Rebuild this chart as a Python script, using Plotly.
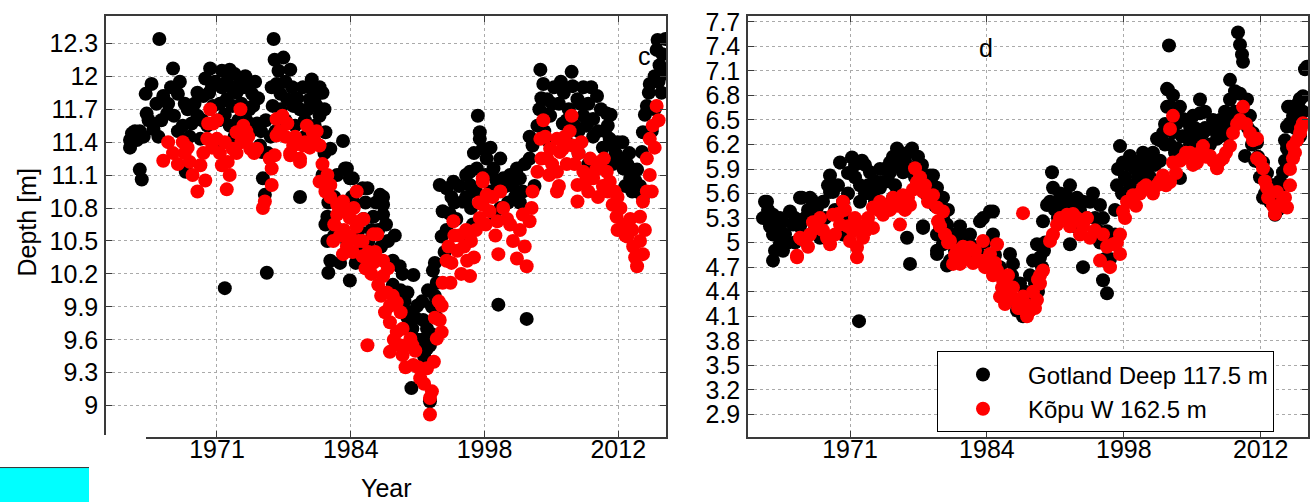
import plotly.graph_objects as go

# ---------------- data (year, depth [m]) ----------------
# Panel c : Gotland Deep 117.5 m (black)
c_gotland = [
    (1962.1, 11.35), (1962.1, 11.42), (1962.3, 11.48), (1962.6, 11.5), (1963.1, 11.5), (1963.1, 11.15), (1963.3, 11.06),
    (1962.8, 11.42), (1963.5, 11.45), (1964.0, 11.6), (1964.8, 11.75), (1965.3, 11.6), (1965.0, 11.45),
    (1963.7, 11.84), (1964.3, 11.93), (1963.8, 11.66), (1964.5, 11.52), (1965.1, 12.34),
    (1965.5, 11.82), (1965.9, 11.66), (1966.5, 12.07), (1966.6, 11.64), (1967.0, 11.84), (1967.7, 11.75), (1967.5, 11.55),
    (1967.8, 11.13), (1966.0, 11.75), (1968.4, 11.57), (1969.0, 11.64), (1969.3, 11.43), (1969.6, 11.82), (1969.8, 11.98),
    (1970.3, 12.07), (1970.5, 11.91), (1970.6, 11.73), (1971.0, 11.37), (1968.0, 11.7), (1969.0, 11.85), (1970.0, 11.55),
    (1966.3, 11.9), (1967.2, 11.95), (1968.7, 11.75), (1969.5, 11.6), (1970.2, 11.85), (1970.8, 11.95), (1968.2, 11.45),
    (1967.0, 11.5),
    (1971.2, 11.6), (1971.5, 11.9), (1971.5, 12.05), (1972.0, 11.95), (1972.0, 11.79), (1972.3, 12.06), (1972.3, 11.55),
    (1972.6, 11.73), (1972.8, 12.02), (1973.0, 11.85), (1973.4, 11.97), (1973.5, 11.75), (1973.9, 12.0), (1974.0, 11.6),
    (1974.2, 11.93), (1974.5, 11.5), (1974.6, 11.84), (1974.7, 11.73), (1975.1, 11.57), (1975.4, 11.37), (1975.5, 11.5),
    (1971.3, 11.75), (1971.8, 11.65), (1972.5, 11.9), (1973.2, 11.6), (1973.7, 11.9), (1974.3, 11.7), (1974.9, 11.95),
    (1975.2, 11.8), (1972.8, 11.45), (1973.8, 11.45),
    (1971.8, 10.07), (1976.1, 10.21),
    (1975.6, 11.31), (1975.7, 11.07), (1975.9, 10.92), (1976.0, 11.6), (1976.5, 11.45),
    (1976.7, 11.73), (1976.8, 12.34), (1976.9, 12.15), (1977.0, 11.5), (1977.1, 11.93), (1977.5, 11.84), (1977.5, 11.7),
    (1977.8, 12.17), (1978.0, 11.95), (1978.2, 11.79), (1978.5, 12.06), (1978.8, 11.73), (1979.0, 11.55), (1979.5, 11.7),
    (1976.2, 11.3), (1976.6, 11.9), (1977.3, 12.05), (1978.0, 11.6), (1978.7, 11.9), (1979.2, 11.8), (1979.8, 11.9),
    (1980.3, 11.7), (1981.0, 11.8), (1981.5, 11.9), (1982.0, 11.3), (1982.3, 11.0), (1982.4, 10.85), (1979.0, 11.4),
    (1979.5, 10.9), (1980.0, 11.6), (1980.0, 11.45), (1980.5, 11.79), (1980.7, 11.97), (1980.8, 11.88), (1981.0, 11.55),
    (1981.2, 11.73), (1981.5, 11.64), (1981.8, 11.85), (1982.0, 11.7), (1982.1, 11.49),
    (1981.8, 11.1), (1982.6, 11.34), (1982.1, 10.65), (1982.3, 10.72), (1982.3, 10.5), (1982.3, 10.68), (1982.6, 10.32),
    (1982.4, 10.21), (1983.6, 10.3),
    (1983.9, 11.41), (1984.1, 11.16), (1984.3, 11.16), (1984.6, 11.07), (1984.9, 11.07), (1984.6, 10.14), (1985.0, 10.85),
    (1985.5, 10.6), (1985.9, 10.98), (1986.0, 10.7), (1986.4, 10.98), (1986.5, 10.5), (1987.0, 10.72), (1987.0, 10.4),
    (1987.5, 10.6), (1987.7, 10.92), (1988.0, 10.83), (1988.0, 10.9), (1988.0, 10.74), (1988.5, 10.5),
    (1983.0, 10.9), (1983.3, 11.1), (1983.5, 10.6), (1984.0, 10.8), (1984.3, 10.5), (1985.2, 10.3), (1985.8, 10.4),
    (1986.2, 10.85), (1986.8, 10.6), (1987.3, 10.85), (1987.8, 10.45), (1988.3, 10.65), (1988.8, 10.3), (1989.2, 10.55),
    (1983.0, 10.55), (1984.8, 10.9),
    (1989.0, 10.32), (1989.0, 10.1), (1989.5, 10.0), (1989.7, 10.27), (1990.0, 10.2), (1990.5, 10.03), (1990.5, 9.8),
    (1990.9, 9.16), (1991.0, 9.7), (1991.1, 10.19), (1991.5, 9.91), (1991.5, 9.6), (1992.0, 9.6), (1992.1, 9.78),
    (1992.5, 9.52), (1992.5, 9.7), (1992.8, 9.04), (1992.8, 9.55), (1993.0, 9.9), (1993.1, 10.23), (1993.3, 10.0),
    (1993.5, 10.12), (1993.5, 9.8),
    (1989.8, 10.05), (1990.2, 9.95), (1990.8, 9.85), (1991.3, 9.8), (1991.8, 9.5), (1992.2, 9.45), (1992.0, 9.95),
    (1993.0, 9.65), (1993.3, 10.3), (1992.6, 10.05),
    (1993.8, 11.01), (1994.0, 10.54), (1994.1, 10.77), (1994.5, 10.98), (1994.5, 10.6), (1995.0, 10.9), (1995.2, 11.04),
    (1995.5, 10.7), (1996.0, 10.55), (1996.2, 10.86), (1996.5, 11.1), (1996.9, 11.01), (1996.9, 11.13), (1997.0, 10.8),
    (1997.6, 11.16), (1997.7, 11.64), (1997.9, 11.43), (1997.9, 11.49), (1998.0, 10.9), (1998.2, 11.34), (1998.6, 11.25),
    (1999.0, 10.95), (1999.3, 11.16), (1999.5, 10.7), (2000.0, 10.8), (2000.3, 11.07), (2000.5, 11.0), (2001.0, 11.1),
    (2001.5, 10.9), (2001.7, 11.16), (2002.0, 11.07), (2002.3, 10.95),
    (1994.3, 10.4), (1994.8, 10.75), (1995.3, 10.85), (1995.8, 11.0), (1996.5, 10.9), (1997.3, 11.3), (1997.5, 10.95),
    (1998.5, 11.1), (1999.0, 11.35), (1999.6, 11.05), (2000.0, 11.25), (2000.8, 10.85), (2001.3, 11.0), (2002.0, 10.85),
    (2002.5, 11.2), (2003.0, 11.45), (1997.2, 10.65),
    (1999.8, 9.92), (2002.7, 9.79),
    (2003.0, 11.25), (2003.3, 11.37), (2003.5, 11.0), (2003.8, 11.55), (2004.0, 11.7), (2004.1, 12.06), (2004.4, 11.93),
    (2004.5, 11.5), (2004.8, 11.79), (2005.0, 11.4), (2005.1, 11.64), (2005.5, 11.9), (2006.0, 11.75), (2006.4, 11.57),
    (2006.5, 11.85), (2006.8, 11.4), (2007.0, 11.7), (2007.3, 12.04), (2007.4, 11.91), (2007.9, 11.79), (2008.0, 11.5),
    (2008.0, 11.3), (2008.5, 11.64), (2008.5, 11.9), (2009.0, 11.75), (2009.0, 11.2), (2009.5, 11.61), (2009.5, 11.45),
    (2009.9, 11.82), (2010.0, 11.5), (2010.5, 11.35), (2010.9, 11.66), (2011.0, 11.55), (2011.2, 11.43), (2011.5, 11.37),
    (2011.5, 11.2), (2012.0, 11.4), (2012.3, 11.25), (2012.6, 11.16), (2013.0, 11.2), (2013.3, 11.07), (2013.5, 10.95),
    (2014.0, 10.95), (2014.0, 11.15), (2014.5, 11.31), (2014.6, 10.9), (2014.6, 11.49), (2015.0, 11.73), (2015.8, 12.0),
    (2015.3, 11.93), (2015.5, 11.5), (2015.8, 11.7), (2016.0, 12.24), (2016.1, 12.33), (2016.3, 12.1), (2016.5, 11.85),
    (2016.7, 12.02), (2016.9, 12.34),
    (2004.2, 11.8), (2004.7, 11.65), (2005.3, 11.75), (2006.2, 11.95), (2006.8, 11.6), (2007.6, 11.55), (2008.2, 11.75),
    (2008.8, 11.55), (2009.3, 11.9), (2010.3, 11.7), (2010.7, 11.5), (2011.3, 11.65), (2011.8, 11.3), (2012.5, 11.4),
    (2013.2, 11.3), (2013.8, 11.05), (2014.3, 11.0), (2014.8, 11.65), (2015.2, 11.85), (2016.2, 11.95),
    (2016.6, 12.2), (2012.8, 11.0), (2013.5, 11.15),
]

# Panel c : Kõpu W 162.5 m (red)
c_kopu = [
    (1965.5, 11.23), (1966.0, 11.4), (1967.5, 11.4), (1967.7, 11.3), (1968.2, 11.22), (1968.5, 11.1), (1969.0, 10.95),
    (1969.3, 11.19), (1969.6, 11.3), (1970.0, 11.43), (1970.1, 11.57), (1970.3, 11.7), (1970.6, 11.57), (1971.0, 11.43),
    (1971.3, 11.3), (1971.5, 11.19), (1972.0, 10.97), (1972.1, 11.22), (1972.6, 11.34), (1973.0, 11.49), (1973.0, 11.3),
    (1973.4, 11.7), (1973.7, 11.55), (1974.0, 11.5), (1974.4, 11.34), (1974.8, 11.3), (1975.1, 11.34), (1975.7, 10.8),
    (1966.5, 11.3), (1967.0, 11.2), (1968.0, 11.35), (1969.8, 11.05), (1970.5, 11.35), (1971.0, 11.6), (1971.8, 11.4),
    (1972.3, 11.1), (1973.5, 11.4), (1974.2, 11.45),
    (1975.9, 10.86), (1976.4, 11.25), (1976.6, 11.01), (1976.6, 11.16), (1976.9, 11.28), (1977.1, 11.46), (1977.1, 11.61),
    (1977.7, 11.64), (1978.2, 11.57), (1978.5, 11.3), (1978.5, 11.28), (1978.8, 11.37), (1979.5, 11.25), (1979.5, 11.22),
    (1979.8, 11.37), (1980.2, 11.55), (1980.8, 11.49), (1981.0, 11.41), (1981.5, 11.37), (1981.5, 11.04), (1982.1, 10.95),
    (1977.4, 11.5), (1978.0, 11.45), (1979.0, 11.45), (1980.0, 11.4), (1980.5, 11.35), (1981.2, 11.5), (1981.8, 11.2),
    (1982.3, 11.1),
    (1982.6, 11.01), (1982.6, 10.9), (1982.9, 10.5), (1983.3, 10.83), (1983.3, 10.74), (1983.9, 10.86), (1983.9, 10.38),
    (1984.0, 10.6), (1984.3, 10.77), (1984.6, 10.54), (1984.6, 10.71), (1985.0, 10.8), (1985.3, 10.95), (1985.3, 10.63),
    (1985.6, 10.68), (1985.9, 10.5), (1985.9, 10.36), (1986.0, 10.7), (1986.4, 9.55), (1986.5, 10.4), (1987.0, 10.56),
    (1987.0, 10.3), (1987.4, 10.56), (1987.5, 10.1), (1988.0, 10.32), (1988.0, 10.18), (1988.4, 10.03), (1988.5, 10.25),
    (1988.7, 9.91), (1988.7, 9.76), (1988.7, 9.49), (1989.0, 10.0), (1989.4, 9.94), (1989.4, 9.67), (1989.8, 9.85),
    (1990.0, 9.7), (1990.0, 9.46), (1990.4, 9.55), (1990.8, 9.61), (1991.1, 9.37), (1991.3, 9.5), (1991.8, 9.25),
    (1992.5, 9.34), (1992.8, 9.07), (1992.8, 8.92), (1993.0, 9.13), (1993.5, 9.61), (1993.8, 9.78), (1994.0, 9.67),
    (1983.0, 10.65), (1983.6, 10.55), (1984.3, 10.45), (1984.9, 10.4), (1985.5, 10.5), (1986.2, 10.25), (1986.8, 10.2),
    (1987.2, 10.4), (1987.8, 10.0), (1988.2, 9.85), (1989.1, 9.6), (1989.7, 9.55), (1990.3, 9.35), (1991.0, 9.55),
    (1991.6, 9.35), (1992.2, 9.2), (1993.2, 9.4), (1993.3, 9.8), (1993.7, 9.95),
    (1994.0, 9.91), (1994.1, 10.12), (1994.5, 10.32), (1994.9, 10.12), (1995.0, 10.3), (1995.2, 10.68), (1995.6, 10.41),
    (1995.8, 10.55), (1996.0, 10.2), (1996.3, 10.45), (1996.6, 10.32), (1996.9, 10.18), (1997.0, 10.5), (1997.5, 10.6),
    (1997.9, 10.71), (1998.2, 10.83), (1998.2, 11.04), (1998.2, 11.07), (1998.6, 10.92), (1998.9, 10.77), (1999.7, 10.68),
    (1999.8, 10.38), (2000.3, 10.8), (2001.0, 10.65), (2001.7, 10.34), (2002.3, 10.74), (2002.7, 10.27), (2003.0, 10.68),
    (1994.7, 10.45), (1995.3, 10.55), (1996.5, 10.6), (1997.3, 10.35), (1997.8, 10.85), (1998.5, 10.65), (1999.2, 10.9),
    (1999.5, 10.55), (2000.0, 10.95), (2000.7, 10.7), (2001.3, 10.5), (2002.0, 10.6), (2002.5, 10.45), (2003.2, 10.8),
    (2003.3, 10.95), (2003.8, 11.13), (2004.1, 11.43), (2004.4, 11.6), (2004.8, 11.25), (2005.0, 11.1), (2005.1, 11.34),
    (2005.8, 11.43), (2005.8, 11.13), (2005.8, 10.95), (2006.1, 11.31), (2006.4, 11.34), (2006.8, 11.2), (2007.3, 11.64),
    (2007.4, 11.37), (2007.9, 11.01), (2007.9, 10.86), (2008.0, 11.3), (2008.5, 11.13), (2009.0, 10.95), (2009.2, 11.25),
    (2009.5, 11.07), (2010.0, 10.9), (2010.2, 11.22), (2010.5, 11.0), (2010.9, 11.13), (2011.2, 11.04), (2011.5, 10.83),
    (2011.9, 10.72), (2012.0, 10.9), (2012.3, 10.8), (2012.6, 10.65), (2013.0, 10.54), (2013.3, 10.7), (2013.6, 10.45),
    (2014.0, 10.27), (2014.3, 10.72), (2014.3, 10.5), (2014.6, 10.86), (2014.6, 10.38), (2015.0, 10.95), (2015.0, 11.25),
    (2015.3, 11.1), (2015.3, 11.43), (2015.6, 11.55), (2015.8, 11.35), (2016.0, 11.73), (2016.2, 11.6),
    (2004.2, 11.25), (2004.6, 11.45), (2005.3, 11.2), (2006.0, 11.0), (2006.6, 11.45), (2007.1, 11.5), (2007.6, 11.2),
    (2008.3, 11.4), (2008.8, 11.05), (2009.8, 11.15), (2010.6, 11.25), (2011.0, 10.95), (2011.7, 10.95), (2012.0, 10.6),
    (2012.8, 10.55), (2013.5, 10.6), (2013.8, 10.35), (2014.8, 10.6), (2015.5, 10.95),
]

# Panel d : Gotland Deep 117.5 m (black)
d_gotland = [
    (1962.3, 5.3), (1962.5, 5.5), (1962.7, 5.5), (1963.0, 5.2), (1963.3, 5.34), (1963.3, 5.1), (1963.3, 4.78),
    (1963.5, 5.1), (1963.5, 4.9), (1964.0, 5.3), (1964.0, 4.98), (1964.3, 4.9), (1964.5, 5.1), (1965.0, 5.38),
    (1965.3, 5.22), (1965.5, 5.0), (1966.0, 5.55), (1966.2, 5.55), (1966.5, 5.3), (1967.0, 5.55), (1967.2, 5.52),
    (1967.5, 5.2), (1967.7, 5.43), (1967.7, 5.3), (1968.0, 5.06), (1968.5, 5.3), (1969.0, 5.82), (1969.0, 5.62),
    (1969.3, 5.62), (1969.5, 5.4), (1970.0, 5.98), (1970.3, 5.1), (1970.5, 5.3), (1971.2, 6.04), (1971.5, 5.8),
    (1962.8, 5.4), (1963.8, 5.2), (1964.3, 5.25), (1964.8, 5.0), (1965.5, 5.3), (1966.0, 5.2), (1966.8, 5.4),
    (1967.3, 5.35), (1968.3, 5.5), (1968.8, 5.7), (1969.8, 5.7), (1970.3, 5.5), (1970.8, 5.85), (1970.8, 5.6),
    (1971.9, 4.04), (1972.0, 5.7), (1972.0, 5.5), (1972.2, 6.0), (1972.5, 5.6), (1973.0, 5.86), (1973.3, 5.58),
    (1973.5, 5.5), (1974.0, 5.67), (1974.3, 5.74), (1974.5, 5.9), (1975.0, 5.98), (1975.0, 5.86), (1975.3, 5.55),
    (1975.5, 5.7), (1975.7, 6.15), (1976.3, 5.86), (1976.3, 5.91), (1976.5, 6.0), (1976.7, 5.06), (1977.0, 4.74),
    (1977.2, 6.15), (1977.5, 5.8), (1977.7, 5.94), (1978.0, 5.9), (1978.3, 5.2), (1978.3, 5.18), (1978.5, 5.7),
    (1978.7, 5.58), (1979.0, 5.82), (1979.3, 5.82), (1979.5, 5.45), (1979.7, 5.67), (1979.7, 5.1), (1979.7, 4.9),
    (1971.5, 5.95), (1972.5, 5.95), (1972.8, 5.7), (1973.5, 5.75), (1974.0, 5.9), (1974.8, 5.75), (1975.3, 6.05),
    (1975.8, 5.95), (1976.0, 6.1), (1976.8, 6.1), (1977.2, 5.9), (1977.8, 6.05), (1978.2, 5.95), (1978.8, 5.75),
    (1979.2, 5.6), (1980.0, 5.45), (1980.3, 5.3), (1980.8, 5.4),
    (1979.7, 4.86), (1980.0, 5.2), (1980.3, 5.55), (1980.3, 4.98), (1980.7, 5.22), (1980.7, 4.72), (1981.0, 5.0),
    (1981.0, 4.78), (1981.5, 4.9), (1982.0, 5.2), (1982.3, 5.06), (1983.0, 5.1), (1983.5, 4.9), (1984.0, 5.26),
    (1984.5, 5.0), (1985.0, 5.38), (1985.0, 4.8), (1985.3, 5.38), (1985.3, 5.1), (1985.7, 4.66), (1985.7, 4.62),
    (1986.0, 4.7), (1986.5, 4.5), (1987.0, 4.86), (1987.0, 4.4), (1987.3, 4.74), (1987.5, 4.3), (1987.7, 4.17),
    (1988.0, 4.5), (1988.3, 4.1), (1988.5, 4.4), (1989.0, 4.6), (1989.3, 4.78), (1989.5, 4.5), (1989.7, 4.98),
    (1981.3, 5.1), (1981.8, 5.05), (1982.5, 4.85), (1983.3, 4.95), (1984.0, 4.85), (1984.3, 5.3), (1984.8, 4.75),
    (1985.5, 4.85), (1986.2, 4.6), (1986.8, 4.55), (1987.2, 4.6), (1988.0, 4.3), (1988.8, 4.35), (1989.2, 4.25),
    (1989.8, 4.4), (1990.2, 4.7), (1990.4, 4.9),
    (1990.0, 4.82), (1990.3, 5.26), (1990.5, 5.0), (1990.7, 5.46), (1991.0, 5.5), (1991.2, 5.86), (1991.3, 5.67),
    (1992.0, 5.6), (1992.5, 5.4), (1993.0, 5.7), (1993.0, 4.98), (1993.5, 5.2), (1993.7, 5.55), (1994.0, 5.4),
    (1994.3, 4.7), (1994.7, 5.3), (1995.0, 5.5), (1995.5, 5.3), (1996.0, 5.46), (1996.0, 5.0), (1996.3, 5.3),
    (1996.3, 4.54), (1996.7, 5.14), (1996.7, 4.38), (1997.0, 4.8), (1997.3, 5.0), (1997.7, 5.7), (1998.0, 6.18),
    (1991.5, 5.4), (1991.8, 5.3), (1992.2, 5.5), (1992.8, 5.55), (1993.3, 5.45), (1994.3, 5.5), (1995.3, 5.6),
    (1995.8, 5.15), (1996.5, 4.8), (1997.5, 5.1), (1997.5, 5.4), (1997.8, 5.9), (1998.2, 5.6),
    (1998.3, 5.98), (1998.5, 5.8), (1999.0, 6.06), (1999.0, 5.7), (1999.5, 5.9), (2000.0, 5.94), (2000.5, 6.0),
    (2000.7, 5.86), (2001.0, 5.8), (2001.3, 6.1), (2001.7, 6.27), (2002.0, 6.0), (2002.3, 6.34), (2002.5, 6.2),
    (2002.7, 6.66), (2002.7, 6.88), (2002.8, 6.87), (2002.9, 7.41), (2003.0, 6.66), (2003.0, 6.2), (2003.5, 6.1),
    (2003.7, 6.46), (2003.7, 6.15), (2004.0, 6.66), (2004.0, 5.79), (2004.3, 6.51), (2004.5, 6.3), (2005.0, 6.42),
    (2005.0, 6.2), (2005.5, 6.4), (2006.0, 6.75), (2006.0, 6.58), (2006.3, 6.34), (2006.5, 6.4), (2007.0, 6.39),
    (2007.0, 6.2), (2007.5, 6.4), (2007.7, 6.27), (2008.0, 6.3), (2008.3, 6.42), (2008.7, 6.46), (2008.7, 6.3),
    (2009.0, 6.99), (2009.0, 6.75), (2009.5, 6.6), (2009.8, 7.57), (2010.0, 7.42), (2010.0, 6.82), (2010.2, 7.3),
    (2010.3, 7.21), (2010.5, 6.06), (2010.7, 6.75), (2011.0, 6.55), (2011.3, 6.34), (2011.5, 6.0), (2011.7, 6.22),
    (2012.0, 5.98), (2012.0, 5.8), (2012.3, 5.98), (2012.3, 5.79), (2012.3, 5.55), (2012.5, 5.6), (2013.0, 5.7),
    (2013.0, 5.5), (2013.3, 5.7), (2013.5, 5.34), (2013.7, 5.62), (2013.8, 5.4), (2014.0, 5.5), (2014.3, 5.7),
    (2014.3, 5.86), (2014.7, 5.91), (2014.7, 6.15), (2014.7, 6.42), (2014.8, 6.66), (2015.0, 6.46), (2015.0, 6.66),
    (2015.5, 6.4), (2015.5, 6.6), (2016.0, 6.75), (2016.0, 6.3), (2016.0, 6.76), (2016.3, 6.79), (2016.5, 7.12),
    (2016.7, 7.15),
    (1998.8, 5.95), (1999.3, 6.0), (1999.8, 5.8), (2000.3, 6.1), (2001.0, 6.05), (2001.5, 5.95), (2002.0, 6.25),
    (2002.5, 6.45), (2003.3, 6.35), (2003.3, 6.8), (2004.2, 6.3), (2004.7, 6.5), (2005.3, 6.55), (2005.7, 6.3),
    (2006.5, 6.6), (2007.3, 6.5), (2008.0, 6.5), (2008.5, 6.6), (2009.3, 6.5), (2009.5, 6.85), (2010.3, 6.6),
    (2010.8, 6.4), (2011.2, 6.2), (2011.8, 6.05), (2012.7, 5.85), (2013.3, 5.55), (2014.0, 5.75), (2014.5, 6.0),
    (2014.5, 6.25), (2015.3, 6.55), (2015.8, 6.7), (2016.3, 6.6),
]

# Panel d : Kõpu W 162.5 m (red)
d_kopu = [
    (1965.7, 4.84), (1965.7, 4.82), (1966.0, 5.06), (1966.2, 5.04), (1967.0, 5.1), (1967.7, 5.18), (1968.0, 5.3),
    (1968.7, 5.06), (1969.0, 4.98), (1969.3, 5.34), (1969.5, 5.1), (1970.0, 5.22), (1970.3, 5.5), (1970.5, 5.4),
    (1971.0, 5.02), (1971.3, 5.14), (1971.7, 4.94), (1971.7, 4.82), (1972.0, 5.2), (1972.3, 5.06), (1972.8, 5.3),
    (1973.3, 5.43), (1973.3, 5.18), (1974.0, 5.5), (1974.3, 5.34), (1975.0, 5.4), (1975.3, 5.55), (1976.0, 5.22),
    (1976.3, 5.58), (1976.5, 5.4), (1977.0, 5.46), (1977.5, 5.91), (1977.7, 5.74), (1978.0, 5.8), (1978.3, 5.62),
    (1978.8, 5.5), (1979.3, 5.58), (1979.7, 5.43), (1979.8, 5.26), (1980.3, 5.38), (1980.5, 5.1), (1981.0, 5.02),
    (1966.8, 4.95), (1967.3, 5.25), (1968.3, 5.15), (1969.8, 5.35), (1970.8, 5.2), (1971.5, 5.3), (1972.6, 5.15),
    (1973.8, 5.4), (1974.6, 5.45), (1975.8, 5.45), (1976.8, 5.55), (1977.3, 5.65), (1978.5, 5.7), (1979.0, 5.5),
    (1980.0, 5.2), (1980.8, 5.0),
    (1981.3, 4.74), (1981.7, 4.9), (1982.0, 4.74), (1982.5, 4.8), (1983.0, 4.94), (1983.5, 4.9), (1983.7, 4.78),
    (1984.0, 4.78), (1984.3, 5.02), (1984.5, 4.7), (1985.0, 4.86), (1985.3, 4.6), (1985.7, 4.66), (1985.7, 4.98),
    (1986.0, 4.34), (1986.3, 4.54), (1986.5, 4.25), (1986.8, 4.6), (1987.0, 4.42), (1987.5, 4.3), (1988.0, 4.2),
    (1988.3, 4.34), (1988.3, 5.36), (1988.7, 4.1), (1989.0, 4.17), (1989.3, 4.4), (1989.7, 4.3), (1990.0, 4.5),
    (1981.5, 4.85), (1982.3, 4.95), (1983.3, 4.75), (1984.8, 4.8), (1985.5, 4.75), (1986.2, 4.45), (1986.7, 4.35),
    (1987.3, 4.45), (1987.8, 4.2), (1988.5, 4.25), (1989.5, 4.2), (1989.8, 4.55),
    (1990.0, 4.6), (1990.3, 4.66), (1991.0, 5.02), (1991.7, 5.22), (1992.7, 5.34), (1993.7, 5.3), (1994.0, 5.1),
    (1994.7, 5.3), (1995.0, 5.06), (1996.0, 4.78), (1996.3, 5.1), (1997.0, 4.7), (1997.3, 4.98), (1998.0, 4.86),
    (1991.3, 5.1), (1992.0, 5.3), (1993.0, 5.2), (1993.3, 5.35), (1994.3, 5.2), (1995.5, 5.15), (1996.7, 4.95),
    (1997.7, 5.0),
    (1998.0, 5.1), (1998.3, 5.38), (1998.7, 5.5), (1999.0, 5.5), (1999.3, 5.58), (2000.0, 5.6), (2000.3, 5.67),
    (2001.0, 5.65), (2001.7, 5.7), (2002.0, 5.75), (2002.3, 5.82), (2003.0, 5.74), (2003.0, 6.39), (2003.3, 6.55),
    (2003.3, 5.98), (2004.0, 6.0), (2004.3, 6.03), (2005.0, 6.1), (2005.7, 5.98), (2006.0, 6.1), (2006.3, 6.18),
    (2007.0, 6.06), (2007.7, 5.91), (2008.0, 6.0), (2008.3, 6.03), (2009.0, 6.18), (2009.3, 6.34), (2010.0, 6.5),
    (2010.3, 6.66), (2011.0, 6.34), (2011.7, 6.27), (2011.7, 6.03), (2012.0, 6.0), (2012.3, 5.91), (2012.7, 5.67),
    (2013.0, 5.6), (2013.3, 5.45), (2013.7, 5.62), (2014.0, 5.46), (2014.3, 5.5), (2014.7, 5.43), (2015.0, 5.7),
    (2015.3, 6.03), (2015.3, 6.18), (2015.7, 6.25), (2016.0, 6.34), (2016.3, 6.46),
    (1998.5, 5.3), (1999.6, 5.45), (2000.6, 5.7), (2001.3, 5.6), (2002.6, 5.7), (2003.6, 5.85), (2004.6, 6.1),
    (2005.3, 5.95), (2006.6, 6.05), (2007.3, 6.0), (2008.6, 6.1), (2009.7, 6.45), (2010.6, 6.45), (2011.3, 6.25),
    (2012.5, 5.75), (2012.8, 5.55), (2013.5, 5.35), (2014.5, 5.55), (2015.0, 5.9), (2015.5, 6.1), (2016.1, 6.4),
]

series_names = ["Gotland Deep 117.5 m", "K\u00f5pu W 162.5 m"]
series_colors = ["#000000", "#ff0000"]

x_tick_vals = [1971.0, 1984.69, 1998.38, 2012.07]
x_tick_text = ["1971", "1984", "1998", "2012"]
c_y_ticks = [9, 9.3, 9.6, 9.9, 10.2, 10.5, 10.8, 11.1, 11.4, 11.7, 12, 12.3]
d_y_ticks = [2.9, 3.2, 3.5, 3.8, 4.1, 4.4, 4.7, 5, 5.3, 5.6, 5.9, 6.2, 6.5, 6.8, 7.1, 7.4, 7.7]

# ---------------- figure ----------------
W, H = 1312, 502
FONT = "Liberation Sans, Arial, sans-serif"
FS = 25
fig = go.Figure()


def add(series, name, color, xa, ya, show):
    xs = [p[0] for p in series]
    ys = [p[1] for p in series]
    fig.add_trace(go.Scatter(
        x=xs, y=ys, mode="markers", name=name, xaxis=xa, yaxis=ya,
        showlegend=show,
        marker=dict(color=color, size=14, line=dict(width=0)),
        hoverinfo="skip"))


add(c_gotland, series_names[0], series_colors[0], "x", "y", False)
add(c_kopu, series_names[1], series_colors[1], "x", "y", False)
add(d_gotland, series_names[0], series_colors[0], "x2", "y2", True)
add(d_kopu, series_names[1], series_colors[1], "x2", "y2", True)

ydom = [1 - 436 / H, 1 - 8 / H]
axis_common = dict(
    showline=True, linecolor="#3a3a3a", linewidth=1.5, mirror="ticks",
    ticks="inside", ticklen=6, tickwidth=1, tickcolor="#3a3a3a",
    showgrid=True, gridcolor="#aaaaaa", griddash="dot", gridwidth=1,
    zeroline=False, ticklabeloverflow="allow",
    tickfont=dict(family=FONT, size=FS, color="#000"),
)

fig.update_layout(
    width=W, height=H, margin=dict(l=0, r=0, t=0, b=0),
    paper_bgcolor="white", plot_bgcolor="white",
    font=dict(family=FONT, size=FS, color="#000"),
    xaxis=dict(domain=[106 / W, 666 / W], range=[1959.64, 2016.96], anchor="y",
               tickvals=x_tick_vals, ticktext=x_tick_text, ticklabelstandoff=-11, **axis_common),
    yaxis=dict(domain=ydom, range=[8.714, 12.55], anchor="x",
               tickvals=c_y_ticks, ticklabelstandoff=1, **axis_common),
    xaxis2=dict(domain=[748 / W, 1308 / W], range=[1960.8, 2016.8], anchor="y2",
                tickvals=x_tick_vals, ticktext=x_tick_text, ticklabelstandoff=-11, **axis_common),
    yaxis2=dict(domain=ydom, range=[2.623, 7.772], anchor="x2",
                tickvals=d_y_ticks, ticklabelstandoff=1, **axis_common),
    legend=dict(x=937 / W, y=1 - 349 / H, xanchor="left", yanchor="top",
                bgcolor="white", bordercolor="#000", borderwidth=1, tracegroupgap=0,
                font=dict(family=FONT, size=24, color="#000"), itemwidth=80),
    annotations=[
        dict(text="Depth [m]", x=27 / W, y=1 - 218 / H, xref="paper", yref="paper",
             xanchor="center", yanchor="middle",
             textangle=-90, showarrow=False, font=dict(family=FONT, size=FS)),
        dict(text="Year", x=386 / W, y=1 - 488 / H, xref="paper", yref="paper",
             xanchor="center", yanchor="middle", showarrow=False, font=dict(family=FONT, size=FS)),
        dict(text="c", x=644 / W, y=1 - 49 / H, xref="paper", yref="paper",
             xanchor="center", yanchor="middle", showarrow=False, font=dict(family=FONT, size=FS)),
        dict(text="d", x=986 / W, y=1 - 41 / H, xref="paper", yref="paper",
             xanchor="center", yanchor="middle", showarrow=False, font=dict(family=FONT, size=FS)),
    ],
    shapes=[
        dict(type="rect", xref="paper", yref="paper", x0=100 / W, x1=146 / W, y0=1 - 441 / H, y1=1 - 434 / H,
             fillcolor="white", line=dict(width=0), layer="above"),
        dict(type="rect", xref="paper", yref="paper", x0=0, x1=89 / W, y0=0, y1=(H - 467) / H,
             fillcolor="#00ffff", line=dict(width=0), layer="above"),
        dict(type="line", xref="paper", yref="paper", x0=0, x1=89 / W, y0=(H - 467) / H, y1=(H - 467) / H,
             line=dict(color="#333333", width=1), layer="above"),
    ],
)

fig.write_html("out.html")
